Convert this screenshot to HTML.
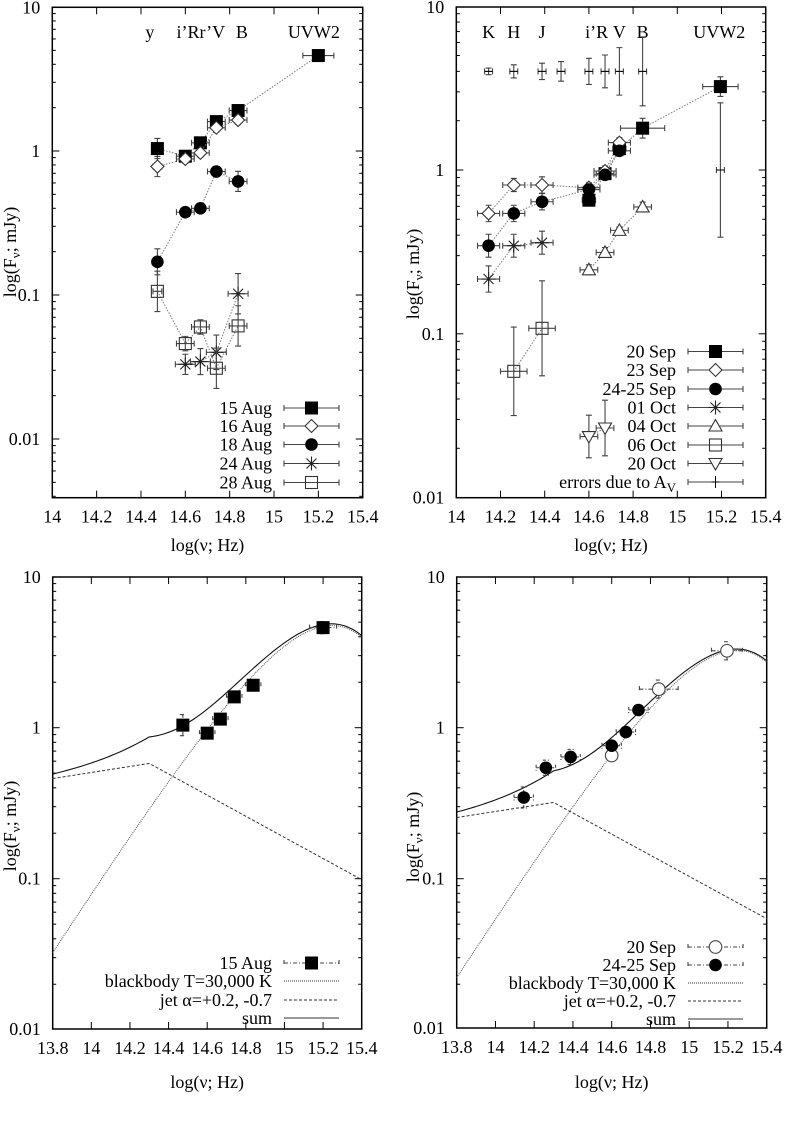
<!DOCTYPE html>
<html><head><meta charset="utf-8">
<style>
html,body{margin:0;padding:0;background:#fff;}
svg{display:block;font-family:"Liberation Serif",serif;}
text{fill:#000;font-family:"Liberation Serif",serif;}
</style></head>
<body>
<svg id="fig" width="785" height="1127" viewBox="0 0 785 1127" xmlns="http://www.w3.org/2000/svg"></svg>
<script>
// ---------- DATA ----------
const p1Freq = [14.474, 14.60, 14.668, 14.74, 14.838, 15.20];
const p1XErr = [0.02, 0.04, 0.04, 0.04, 0.04, 0.07];
const aug15 = [1.04, 0.92, 1.14, 1.6, 1.91, 4.6];
const aug15Err = [0.07, 0.03, 0.03, 0.03, 0.03, 0.04];
const aug16 = [0.78, 0.88, 0.97, 1.45, 1.64];
const aug16Err = [0.07, 0.03, 0.03, 0.03, 0.03];
const aug18 = [0.17, 0.376, 0.40, 0.72, 0.615];
const aug18Err = [0.09, 0.02, 0.03, 0.02, 0.07];
const aug24Freq = [14.60, 14.668, 14.74, 14.838];
const aug24 = [0.033, 0.0345, 0.04, 0.102];
const aug24Err = [0.07, 0.09, 0.12, 0.14];
const aug28 = [0.106, 0.046, 0.06, 0.031, 0.061];
const aug28Err = [0.14, 0.05, 0.05, 0.14, 0.14];
const p1BandLabels = ["y", "i’Rr’V", "B", "UVW2"];
const p1BandPos = [14.44, 14.67, 14.855, 15.18];

const sep20Freq = [14.60, 14.673, 14.738, 14.843, 15.195];
const sep20 = [0.654, 0.95, 1.35, 1.80, 3.23];
const sep20Err = [0.03, 0.03, 0.03, 0.06, 0.06];
const sep20XErr = [0.03, 0.04, 0.03, 0.10, 0.08];
const sep23Freq = [14.146, 14.26, 14.388, 14.60, 14.673, 14.738];
const sep23 = [0.543, 0.81, 0.81, 0.78, 0.986, 1.47];
const sep23Err = [0.05, 0.04, 0.05, 0.03, 0.03, 0.03];
const sep24Freq = [14.146, 14.26, 14.388, 14.60, 14.673, 14.738];
const sep24 = [0.345, 0.543, 0.64, 0.76, 0.935, 1.31];
const sep24Err = [0.07, 0.05, 0.05, 0.03, 0.03, 0.03];
const oct01Freq = [14.146, 14.26, 14.388];
const oct01 = [0.216, 0.345, 0.36];
const oct01Err = [0.08, 0.07, 0.07];
const oct04Freq = [14.60, 14.673, 14.738, 14.843];
const oct04 = [0.246, 0.314, 0.428, 0.595];
const oct04Err = [0.03, 0.03, 0.02, 0.03];
const oct06Freq = [14.26, 14.388];
const oct06 = [0.059, 0.108];
const oct06Err = [0.27, 0.29];
const oct20Freq = [14.60, 14.673];
const oct20 = [0.0236, 0.0266];
const oct20Err = [0.13, 0.17];
const avFreq = [14.146, 14.26, 14.388, 14.474, 14.60, 14.673, 14.738, 14.843, 15.195];
const avVal = [4, 4, 4, 4, 4, 4, 4, 4, 1.0];
const avErr = [0.02, 0.04, 0.05, 0.06, 0.08, 0.1, 0.145, 0.21, 0.41];
const p2BandLabels = ["K", "H", "J", "i’R", "V", "B", "UVW2"];
const p2BandPos = [14.146, 14.26, 14.388, 14.635, 14.738, 14.843, 15.19];

const bbPeak3 = 4.75, jetBreak3 = 0.58;
const bbPeak4 = 3.25, jetBreak4 = 0.32;
const jetNuBreak = 14.3, jetAlphaLow = 0.2, jetAlphaHigh = -0.7;
const p4OpenFreq = [14.60, 14.843, 15.195];
const p4Open = [0.654, 1.80, 3.23];
const p4OpenErr = [0.03, 0.06, 0.06];
const p4FilledFreq = [14.146, 14.26, 14.388, 14.60, 14.673, 14.738];
const p4Filled = [0.345, 0.543, 0.64, 0.76, 0.935, 1.31];
const p4FilledErr = [0.07, 0.05, 0.05, 0.03, 0.03, 0.03];

// ---------- DRAWING ----------
const NS = "http://www.w3.org/2000/svg";
const svg = document.getElementById("fig");
const FS = 18;
function mk(tag, attrs, parent){
  const e = document.createElementNS(NS, tag);
  for (const k in attrs) e.setAttribute(k, attrs[k]);
  (parent||svg).appendChild(e);
  return e;
}
function panel(cfg){
  const g = mk("g", {});
  
  
  cfg.g = g;
  cfg.X = v => cfg.L + (v - cfg.xmin) / (cfg.xmax - cfg.xmin) * (cfg.R - cfg.L);
  cfg.Y = v => cfg.y1 - cfg.dec * Math.log10(v);
  const fr = mk("rect", {x:cfg.L, y:cfg.T, width:cfg.R-cfg.L, height:cfg.B-cfg.T, fill:"none", stroke:"#000", "stroke-width":1.5}, g);
  
  
  for (let d = -3; d <= 1; d++) {
    for (let m = 1; m <= 9; m++) {
      const v = m * Math.pow(10, d);
      let y = cfg.Y(v);
      if (y < cfg.T - 3 || y > cfg.B + 3) continue;
      y = Math.min(Math.max(y, cfg.T), cfg.B);
      const len = m === 1 ? 7 : 3.5;
      mk("line", {x1:cfg.L, x2:cfg.L+len, y1:y, y2:y, stroke:"#000", "stroke-width":1}, g);
      mk("line", {x1:cfg.R, x2:cfg.R-len, y1:y, y2:y, stroke:"#000", "stroke-width":1}, g);
      if (m === 1) {
        const t = mk("text", {x:cfg.L-12, y:y+6, "text-anchor":"end", "font-size":FS}, g);
        t.textContent = v >= 1 ? String(v) : (d === -1 ? "0.1" : "0.01");
        
        
      }
    }
  }
  const n = Math.round((cfg.xmax - cfg.xmin) / 0.2);
  for (let i = 0; i <= n; i++) {
    const v = cfg.xmin + i * 0.2;
    const x = cfg.X(v);
    mk("line", {x1:x, x2:x, y1:cfg.B, y2:cfg.B-7, stroke:"#000", "stroke-width":1}, g);
    mk("line", {x1:x, x2:x, y1:cfg.T, y2:cfg.T+7, stroke:"#000", "stroke-width":1}, g);
    const t = mk("text", {x:x, y:cfg.B+cfg.xlabOff, "text-anchor":"middle", "font-size":FS}, g);
    t.textContent = String(parseFloat(v.toFixed(1)));
    
    
  }
  const xt = mk("text", {x:(cfg.L+cfg.R)/2, y:cfg.xtitleY, "text-anchor":"middle", "font-size":FS}, g);
  xt.textContent = "log(ν; Hz)";
  
  
  const yt = mk("text", {transform:`translate(${cfg.ytitleX},${cfg.ytitleY}) rotate(-90)`, "text-anchor":"middle", "font-size":FS}, g);
  yt.innerHTML = 'log(F<tspan font-size="13" dy="4">ν</tspan><tspan dy="-4">; mJy)</tspan>';
  
  
  return cfg;
}

function marker(g, kind, x, y){
  const s = 6.5;
  let e;
  if (kind === "fsq") e = mk("rect", {x:x-s, y:y-s, width:2*s, height:2*s, fill:"#000"}, g);
  else if (kind === "osq") e = mk("rect", {x:x-s+0.5, y:y-s+0.5, width:2*s-1, height:2*s-1, fill:"none", stroke:"#333", "stroke-width":1.1}, g);
  else if (kind === "dia") e = mk("polygon", {points:`${x},${y-6.5} ${x+6.5},${y} ${x},${y+6.5} ${x-6.5},${y}`, fill:"#fff", stroke:"#333", "stroke-width":1.1}, g);
  else if (kind === "fci") e = mk("circle", {cx:x, cy:y, r:6.3, fill:"#000"}, g);
  else if (kind === "oci") e = mk("circle", {cx:x, cy:y, r:6.3, fill:"#fff", stroke:"#444", "stroke-width":1.1}, g);
  else if (kind === "star") e = mk("path", {d:`M${x-7},${y}H${x+7}M${x},${y-7}V${y+7}M${x-5},${y-5}L${x+5},${y+5}M${x-5},${y+5}L${x+5},${y-5}`, stroke:"#222", "stroke-width":1.1, fill:"none"}, g);
  else if (kind === "tri") e = mk("polygon", {points:`${x},${y-6.5} ${x+6.5},${y+5} ${x-6.5},${y+5}`, fill:"#fff", stroke:"#333", "stroke-width":1.1}, g);
  else if (kind === "itri") e = mk("polygon", {points:`${x},${y+6.5} ${x+6.5},${y-5} ${x-6.5},${y-5}`, fill:"#fff", stroke:"#333", "stroke-width":1.1}, g);
  else if (kind === "plus") e = mk("path", {d:`M${x-4},${y}H${x+4}`, stroke:"#000", "stroke-width":1}, g);
  return e;
}

function errbar(p, g, fx, v, xe, ye, dash){
  const x = p.X(fx), y = p.Y(v);
  const st = {stroke:"#444", "stroke-width":1.1, fill:"none"};
  if (dash) st["stroke-dasharray"] = dash;
  const x1 = p.X(fx - xe), x2 = p.X(fx + xe);
  const yl = p.Y(v * Math.pow(10, -ye)), yh = p.Y(v * Math.pow(10, ye));
  mk("path", Object.assign({d:`M${x1},${y}H${x2}M${x1},${y-3}V${y+3}M${x2},${y-3}V${y+3}M${x},${yl}V${yh}M${x-3},${yl}H${x+3}M${x-3},${yh}H${x+3}`}, st), g);
}

function series(p, name, freqs, vals, yerrs, xerrs, kind, opts){
  opts = opts || {};
  const g = mk("g", {}, p.g);
  
  
  if (!opts.noLine) {
    const pts = freqs.map((f,i) => `${p.X(f)},${p.Y(vals[i])}`).join(" ");
    mk("polyline", {points:pts, fill:"none", stroke:"#777", "stroke-width":1, "stroke-dasharray":"1.5,1.5"}, g);
  }
  freqs.forEach((f,i) => {
    errbar(p, g, f, vals[i], Array.isArray(xerrs) ? xerrs[i] : xerrs, yerrs[i], opts.dash);
  });
  freqs.forEach((f,i) => {
    const m = marker(g, kind, p.X(f), p.Y(vals[i]));
    
    
  });
}

function legendRow(p, label, y, kind, style){
  const g = mk("g", {}, p.g);
  
  
  const t = mk("text", {x:p.legX, y:y+6, "text-anchor":"end", "font-size":FS}, g);
  t.innerHTML = label;
  const x1 = p.legX + 12, x2 = p.legX + 67, xm = (x1+x2)/2;
  if (style === "err" || style === "errdash") {
    const st = {stroke:"#444", "stroke-width":1.1, fill:"none"};
    if (style === "errdash") st["stroke-dasharray"] = "4,2,1,2";
    mk("path", Object.assign({d:`M${x1},${y}H${x2}M${x1},${y-3}V${y+3}M${x2},${y-3}V${y+3}`}, st), g);
    if (kind) marker(g, kind, xm, y);
    if (kind === "plus") mk("path", {d:`M${xm},${y-6}V${y+6}`, stroke:"#000", "stroke-width":1}, g);
  } else {
    const st = {x1:x1, x2:x2, y1:y, y2:y, stroke:"#333", "stroke-width":1};
    if (style === "dot") st["stroke-dasharray"] = "1,1";
    if (style === "dash") st["stroke-dasharray"] = "3,2";
    mk("line", st, g);
  }
}

function bandLabels(p, labels, pos){
  labels.forEach((l,i) => {
    const t = mk("text", {x:p.X(pos[i]), y:38, "text-anchor":"middle", "font-size":FS}, p.g);
    t.textContent = l;
    
    
  });
}

function bb(lx, peak){
  const x = Math.pow(10, lx) * 4.799e-11 / 30000;
  return peak * (x*x*x / (Math.exp(x) - 1)) / 1.4218;
}
function jet(lx, jb){
  const a = lx < jetNuBreak ? jetAlphaLow : jetAlphaHigh;
  return jb * Math.pow(10, a * (lx - jetNuBreak));
}
function models(p, peak, jb){
  const mg = mk("g", {}, p.g);
  
  
  let dB = "", dJ = "", dS = "";
  for (let lx = p.xmin; lx <= p.xmax + 1e-9; lx += 0.01) {
    const x = p.X(lx);
    const b = bb(lx, peak), j = jet(lx, jb);
    const c = dB ? "L" : "M";
    dB += `${c}${x},${p.Y(b)}`; dJ += `${c}${x},${p.Y(j)}`; dS += `${c}${x},${p.Y(b+j)}`;
  }
  const cb = mk("path", {d:dB, fill:"none", stroke:"#555", "stroke-width":1, "stroke-dasharray":"1,1"}, mg);
  
  const cj = mk("path", {d:dJ, fill:"none", stroke:"#333", "stroke-width":1, "stroke-dasharray":"3,2"}, mg);
  
  const cs = mk("path", {d:dS, fill:"none", stroke:"#111", "stroke-width":1.1}, mg);
  
}

// Panel 1
const P1 = panel({name:"panel-august", L:52.3, R:362.7, T:7.3, B:497.7, y1:151, dec:144, xmin:14, xmax:15.4, xlabOff:25, xtitleY:551, ytitleX:16, ytitleY:252, legX:272});
bandLabels(P1, p1BandLabels, p1BandPos);
series(P1, "series-15-aug", p1Freq, aug15, aug15Err, p1XErr, "fsq");
series(P1, "series-16-aug", p1Freq.slice(0,5), aug16, aug16Err, p1XErr, "dia");
series(P1, "series-18-aug", p1Freq.slice(0,5), aug18, aug18Err, p1XErr, "fci");
series(P1, "series-24-aug", aug24Freq, aug24, aug24Err, 0.045, "star");
series(P1, "series-28-aug", p1Freq.slice(0,5), aug28, aug28Err, p1XErr, "osq");
legendRow(P1, "15 Aug", 408, "fsq", "err");
legendRow(P1, "16 Aug", 426, "dia", "err");
legendRow(P1, "18 Aug", 444.5, "fci", "err");
legendRow(P1, "24 Aug", 463.5, "star", "err");
legendRow(P1, "28 Aug", 482.5, "osq", "err");

// Panel 2
const P2 = panel({name:"panel-september-october", L:456.3, R:765.7, T:7, B:497.7, y1:170, dec:163.8, xmin:14, xmax:15.4, xlabOff:25, xtitleY:551, ytitleX:419, ytitleY:274, legX:676});
bandLabels(P2, p2BandLabels, p2BandPos);
series(P2, "series-errors-av", avFreq, avVal, avErr, 0.018, "plus", {noLine:true});
series(P2, "series-20-sep", sep20Freq, sep20, sep20Err, sep20XErr, "fsq");
series(P2, "series-23-sep", sep23Freq, sep23, sep23Err, 0.05, "dia");
series(P2, "series-24-25-sep", sep24Freq, sep24, sep24Err, 0.05, "fci");
series(P2, "series-01-oct", oct01Freq, oct01, oct01Err, 0.05, "star");
series(P2, "series-04-oct", oct04Freq, oct04, oct04Err, 0.04, "tri");
series(P2, "series-06-oct", oct06Freq, oct06, oct06Err, 0.06, "osq");
series(P2, "series-20-oct", oct20Freq, oct20, oct20Err, 0.04, "itri");
legendRow(P2, "20 Sep", 351.5, "fsq", "err");
legendRow(P2, "23 Sep", 370, "dia", "err");
legendRow(P2, "24-25 Sep", 389, "fci", "err");
legendRow(P2, "01 Oct", 407.5, "star", "err");
legendRow(P2, "04 Oct", 426, "tri", "err");
legendRow(P2, "06 Oct", 445, "osq", "err");
legendRow(P2, "20 Oct", 463.5, "itri", "err");
legendRow(P2, 'errors due to A<tspan font-size="13" dy="4">V</tspan>', 482, "plus", "err");

// Panel 3
const P3 = panel({name:"panel-model-15-aug", L:52.7, R:361.7, T:577, B:1029, y1:727.7, dec:151, xmin:13.8, xmax:15.4, xlabOff:25, xtitleY:1088, ytitleX:16, ytitleY:826, legX:272});
models(P3, bbPeak3, jetBreak3);
series(P3, "series-15-aug-model", p1Freq, aug15, aug15Err, p1XErr, "fsq", {noLine:true, dash:"4,2,1,2"});
legendRow(P3, "15 Aug", 963, "fsq", "errdash");
legendRow(P3, "blackbody T=30,000 K", 981, null, "dot");
legendRow(P3, "jet α=+0.2, -0.7", 1000, null, "dash");
legendRow(P3, "sum", 1018, null, "solid");

// Panel 4
const P4 = panel({name:"panel-model-sep", L:456.7, R:766.7, T:577, B:1028, y1:727.7, dec:151, xmin:13.8, xmax:15.4, xlabOff:25, xtitleY:1088, ytitleX:419, ytitleY:837, legX:676});
models(P4, bbPeak4, jetBreak4);
series(P4, "series-20-sep-model", p4OpenFreq, p4Open, p4OpenErr, [0.03,0.1,0.08], "oci", {noLine:true, dash:"4,2,1,2"});
series(P4, "series-24-25-sep-model", p4FilledFreq, p4Filled, p4FilledErr, 0.05, "fci", {noLine:true, dash:"3,2"});
legendRow(P4, "20 Sep", 947, "oci", "errdash");
legendRow(P4, "24-25 Sep", 965, "fci", "errdash");
legendRow(P4, "blackbody T=30,000 K", 983, null, "dot");
legendRow(P4, "jet α=+0.2, -0.7", 1001, null, "dash");
legendRow(P4, "sum", 1019, null, "solid");
</script>
</body></html>
